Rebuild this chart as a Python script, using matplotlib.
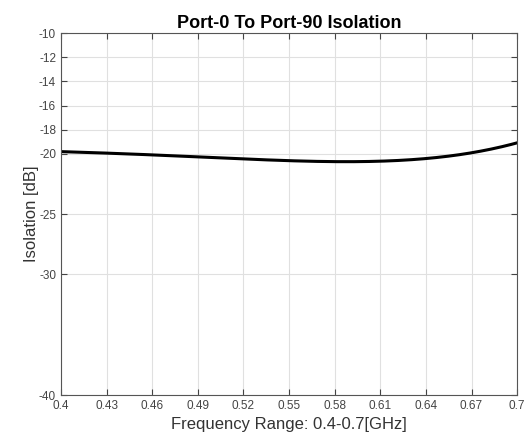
import matplotlib
matplotlib.use("Agg")
import matplotlib.pyplot as plt
import numpy as np

freq = [0.40, 0.43, 0.46, 0.49, 0.52, 0.55, 0.58, 0.61, 0.64, 0.67, 0.70]
isolation = [-19.82, -19.95, -20.10, -20.25, -20.42, -20.58, -20.66, -20.60, -20.42, -19.90, -19.10]
xticks = [0.4, 0.43, 0.46, 0.49, 0.52, 0.55, 0.58, 0.61, 0.64, 0.67, 0.7]
xticklabels = ["0.4", "0.43", "0.46", "0.49", "0.52", "0.55", "0.58", "0.61", "0.64", "0.67", "0.7"]
yticks = [-40, -30, -25, -20, -18, -16, -14, -12, -10]

plt.rcParams['font.family'] = ['Liberation Sans', 'DejaVu Sans']

fig = plt.figure(figsize=(5.25, 4.36), dpi=100)
ax = fig.add_axes([0.116, 0.094, 0.869, 0.830])

# smooth curve through the read points
xs = np.linspace(0.4, 0.7, 300)
coef = np.polyfit(freq, isolation, 4)
ax.plot(xs, np.polyval(coef, xs), color='black', lw=2.2)

ax.set_xlim(0.4, 0.7)
ax.set_ylim(-40, -10)
ax.set_xticks(xticks)
ax.set_xticklabels(xticklabels)
ax.set_yticks(yticks)
ax.set_yticklabels([str(t) for t in yticks])
ax.grid(True, color='#e0e0e0', lw=0.8)
ax.set_axisbelow(True)
ax.tick_params(direction='in', top=True, right=True, labelsize=8.5, colors='#444444', length=4)
for s in ax.spines.values():
    s.set_color('#555555')
    s.set_linewidth(0.8)
ax.set_title('Port-0 To Port-90 Isolation', fontsize=13, fontweight='bold', pad=4)
ax.set_xlabel('Frequency Range: 0.4-0.7[GHz]', fontsize=12, color='#333333', labelpad=4)
ax.set_ylabel('Isolation [dB]', fontsize=12, color='#333333', labelpad=0)

fig.savefig('out.png', dpi=100)
